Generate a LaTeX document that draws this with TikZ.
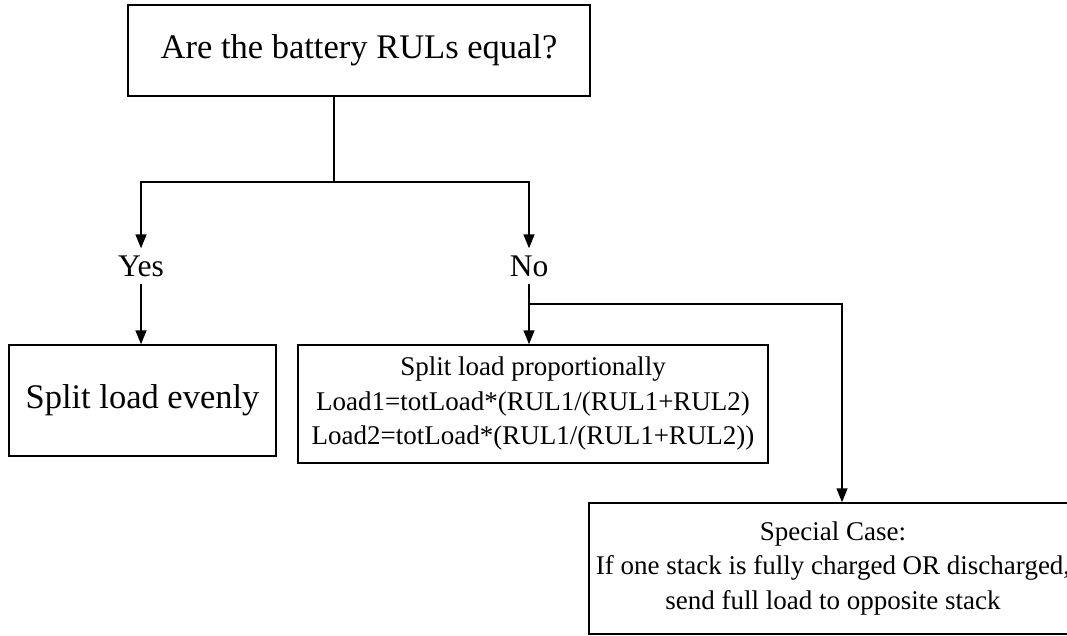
\documentclass[tikz,border=0pt]{standalone}
\usepackage{fontspec}
\setmainfont{Liberation Serif}
\usetikzlibrary{arrows.meta}
\tikzset{
  box/.style={draw, line width=1.5pt, inner sep=0pt, align=center},
  lbl/.style={inner sep=0pt, minimum height=35pt, font=\fontsize{31.5pt}{35pt}\selectfont},
  big/.style={font=\fontsize{34.5pt}{40pt}\selectfont},
  small/.style={font=\fontsize{27pt}{34.5pt}\selectfont},
  link/.style={line width=1.5pt},
  arr/.style={link, -{Triangle[length=14pt,width=11pt]}}
}
\begin{document}
\begin{tikzpicture}[x=1pt,y=-1pt]
\clip (0,0) rectangle (1067,636);
\fill[white] (0,0) rectangle (1067,636);
\node[box, big, minimum width=462pt, minimum height=91pt] (q) at (359,50.5) {Are the battery RULs equal?};
\node[lbl] (yes) at (141,266) {Yes};
\node[lbl] (no) at (529,266) {No};
\node[box, big, minimum width=267pt, minimum height=111pt] (even) at (142.5,400.5) {Split load evenly};
\node[box, small, minimum width=470pt, minimum height=118pt] (prop) at (533,404) {Split load proportionally\\Load1=totLoad*(RUL1/(RUL1+RUL2)\\Load2=totLoad*(RUL1/(RUL1+RUL2))};
\node[box, small, minimum width=488pt, minimum height=131pt] (spec) at (833,568.5) {Special Case:\\If one stack is fully charged OR discharged,\\send full load to opposite stack};
\coordinate (j) at (334,182);
\coordinate (b) at (529,304);
\draw[link] (q.south -| j) -- (j);
\draw[arr] (j) -| (yes.north);
\draw[arr] (j) -| (no.north);
\draw[arr] (yes.south) -- (yes.south |- even.north);
\draw[arr] (no.south) -- (no.south |- prop.north);
\draw[arr] (b) -| ([xshift=9pt]spec.north);
\end{tikzpicture}
\end{document}
